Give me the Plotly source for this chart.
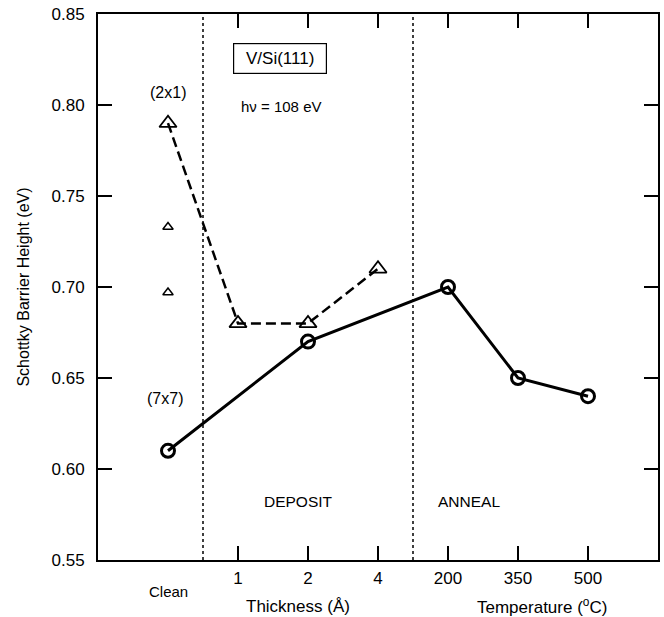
import plotly.graph_objects as go

categories = ["Clean", "1", "2", "4", "200", "350", "500"]
pos = {c: i for i, c in enumerate(categories)}

# Triangles (2x1) dashed series
tri_x = ["Clean", "1", "2", "4"]
tri_y = [0.79, 0.68, 0.68, 0.71]
# extra small triangles at Clean
small_tri_x = ["Clean", "Clean"]
small_tri_y = [0.733, 0.697]
# Circles (7x7) solid series
circ_x = ["Clean", "2", "200", "350", "500"]
circ_y = [0.61, 0.67, 0.70, 0.65, 0.64]

y_ticks = [0.55, 0.60, 0.65, 0.70, 0.75, 0.80, 0.85]

FONT = "Liberation Sans, Arial, sans-serif"

fig = go.Figure()

fig.add_trace(go.Scatter(
    x=[pos[c] for c in tri_x], y=tri_y, mode="lines+markers",
    line=dict(color="black", width=2.5, dash="10px,5px"),
    marker=dict(symbol="triangle-up-open", size=15, color="black", line=dict(width=1.8)),
    showlegend=False, cliponaxis=False))

fig.add_trace(go.Scatter(
    x=[pos[c] for c in small_tri_x], y=small_tri_y, mode="markers",
    marker=dict(symbol="triangle-up-open", size=9, color="black", line=dict(width=1.5)),
    showlegend=False))

fig.add_trace(go.Scatter(
    x=[pos[c] for c in circ_x], y=circ_y, mode="lines+markers",
    line=dict(color="black", width=3),
    marker=dict(symbol="circle-open", size=13, color="black", line=dict(width=3)),
    showlegend=False, cliponaxis=False))

# dotted separators
for xv in [0.5, 3.5]:
    fig.add_shape(type="line", xref="x", yref="paper", x0=xv, x1=xv, y0=0, y1=1,
                  line=dict(color="black", width=1.5, dash="dot"))

fig.update_xaxes(
    range=[-1, 7], tickvals=list(range(1, len(categories))), ticktext=categories[1:],
    ticks="inside", ticklen=14, tickwidth=1.5, tickcolor="black",
    showline=True, linecolor="black", linewidth=2, mirror="ticks",
    showgrid=False, zeroline=False, ticklabelstandoff=2,
    tickfont=dict(family=FONT, size=17, color="black"))
fig.update_yaxes(
    range=[0.55, 0.85], tickvals=y_ticks, ticktext=[f"{v:.2f}" for v in y_ticks],
    ticks="inside", ticklen=14, tickwidth=1.5, tickcolor="black",
    showline=True, linecolor="black", linewidth=2, mirror="ticks",
    showgrid=False, zeroline=False, ticklabelstandoff=8,
    tickfont=dict(family=FONT, size=17, color="black"),
    title=dict(text="Schottky Barrier Height (eV)", font=dict(family=FONT, size=16, color="black"), standoff=18))

ann = [
    dict(x=pos["Clean"], y=-0.058, xref="x", yref="paper", text=categories[0], font=dict(size=15)),
    dict(x=1.86, y=-0.085, xref="x", yref="paper", text="Thickness (Å)", font=dict(size=17)),
    dict(x=5.34, y=-0.085, xref="x", yref="paper", text="Temperature (<sup>o</sup>C)", font=dict(size=17)),
    dict(x=pos["Clean"], y=0.807, xref="x", yref="y", text="(2x1)", font=dict(size=16)),
    dict(x=pos["Clean"] - 0.05, y=0.639, xref="x", yref="y", text="(7x7)", font=dict(size=16)),
    dict(x=1.6, y=0.8258, xref="x", yref="y", text="V/Si(111)", font=dict(size=17),
         bordercolor="black", borderwidth=1.2, borderpad=5, width=82, height=19),
    dict(x=1.62, y=0.799, xref="x", yref="y", text="h\u03bd = 108 eV", font=dict(size=15)),
    dict(x=1.87, y=0.582, xref="x", yref="y", text="DEPOSIT", font=dict(size=15.5)),
    dict(x=4.3, y=0.582, xref="x", yref="y", text="ANNEAL", font=dict(size=15.5)),
]
for a in ann:
    a.update(showarrow=False, xanchor="center", yanchor="middle")
    a["font"].update(family=FONT, color="black")
    fig.add_annotation(**a)

fig.update_layout(
    width=664, height=617, margin=dict(l=98, r=4, t=14, b=57),
    paper_bgcolor="white", plot_bgcolor="white",
    font=dict(family=FONT, color="black"))

fig.write_html("out.html")
